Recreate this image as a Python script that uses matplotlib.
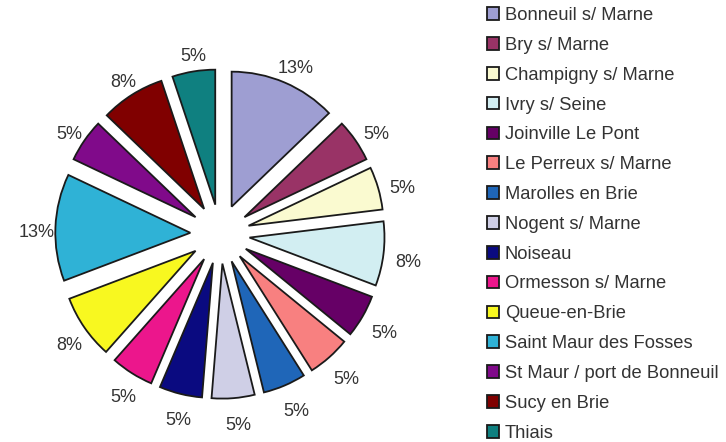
import matplotlib
matplotlib.use("Agg")
import matplotlib.pyplot as plt
from matplotlib.transforms import offset_copy

plt.rcParams['font.family'] = ['Liberation Sans', 'DejaVu Sans']

communes = ["Bonneuil s/ Marne", "Bry s/ Marne", "Champigny s/ Marne", "Ivry s/ Seine",
            "Joinville Le Pont", "Le Perreux s/ Marne", "Marolles en Brie", "Nogent s/ Marne",
            "Noiseau", "Ormesson s/ Marne", "Queue-en-Brie", "Saint Maur des Fosses",
            "St Maur / port de Bonneuil", "Sucy en Brie", "Thiais"]
counts = [5, 2, 2, 3, 2, 2, 2, 2, 2, 2, 3, 5, 2, 3, 2]
colors = ["#9E9ED2", "#993366", "#FAFAD0", "#D2EEF2", "#660066", "#F88080", "#1F66B8",
          "#CFCFE6", "#0A0A80", "#EC168C", "#F8F820", "#2FB2D6", "#800A8A", "#800000",
          "#0F8080"]

W, H = 726, 442
fig = plt.figure(figsize=(W / 100, H / 100), dpi=100)

cx, cy, r = 220, 442 - 234, 135
L = 1.6
half = L * r
ax = fig.add_axes([(cx - half) / W, (cy - half) / H, 2 * half / W, 2 * half / H])

wedges, texts, autotexts = ax.pie(
    counts, colors=colors, startangle=90, counterclock=False,
    explode=[0.22] * len(counts), autopct='%1.0f%%', pctdistance=1.16,
    wedgeprops=dict(edgecolor="#1a1a1a", linewidth=1.3),
    textprops=dict(fontsize=13, color="#333333"))
shifted = offset_copy(ax.transData, fig=fig, x=3, y=-6, units='dots')
for t in autotexts:
    t.set_transform(shifted)
ax.set_xlim(-L, L)
ax.set_ylim(-L, L)
ax.axis('off')

leg = fig.legend(wedges, communes, loc='upper left',
                 bbox_to_anchor=(487 / W, 1 - 7 / H), frameon=False,
                 fontsize=13.2, handlelength=0.68, handleheight=0.68,
                 handletextpad=0.3, labelspacing=0.70, borderpad=0,
                 borderaxespad=0)
for t in leg.get_texts():
    t.set_color("#333333")

fig.savefig("out.png", dpi=100, facecolor="white")
